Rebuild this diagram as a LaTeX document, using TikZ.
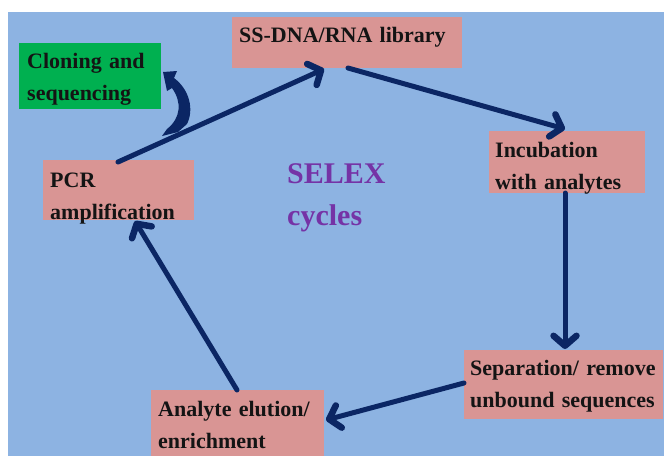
\documentclass[tikz,border=0pt]{standalone}
\usepackage{fontspec}
\setmainfont{Liberation Serif}
\usetikzlibrary{arrows.meta,calc}

\definecolor{bgblue}{HTML}{8DB3E2}
\definecolor{boxpink}{HTML}{D99594}
\definecolor{boxgreen}{HTML}{00B050}
\definecolor{navy}{HTML}{0B2664}
\definecolor{selexpurple}{HTML}{7533A6}
\definecolor{inktext}{HTML}{141414}

\tikzset{
  box/.style={draw=none, inner sep=0pt, outer sep=0pt, anchor=north west},
  lbl/.style={anchor=base west, inner sep=0pt, align=left, text width=210pt,
              font=\bfseries\fontsize{22}{32}\selectfont, text=inktext},
  flow/.style={draw=navy, line width=5pt, line cap=round,
               -{Straight Barb[length=10pt,width=23pt,line width=6.5pt,round]}},
}

\begin{document}
\begin{tikzpicture}[x=1pt, y=-1pt]
  \useasboundingbox (0,0) rectangle (664,456);
  % page and slide background
  \fill[white] (0,0) rectangle (664,456);
  \fill[bgblue] (8,12) rectangle (664,456);

  % process boxes
  \node[box, fill=boxgreen, minimum width=142pt, minimum height=66pt] (clo) at (19,43) {};
  \node[box, fill=boxpink, minimum width=230pt, minimum height=51pt] (lib) at (232,17) {};
  \node[box, fill=boxpink, minimum width=151pt, minimum height=60pt] (pcr) at (43,160) {};
  \node[box, fill=boxpink, minimum width=156pt, minimum height=62pt] (inc) at (489,131) {};
  \node[box, fill=boxpink, minimum width=199pt, minimum height=69pt] (sep) at (464,350) {};
  \node[box, fill=boxpink, minimum width=173pt, minimum height=66pt] (elu) at (151,390) {};

  % box captions
  \node[lbl] (clotxt) at (27,68)  {Cloning and\\sequencing};
  \node[lbl] (libtxt) at (239,42) {SS-DNA/RNA library};
  \node[lbl] (pcrtxt) at (50,187) {PCR\\amplification};
  \node[lbl] (inctxt) at (495,157) {Incubation\\with analytes};
  \node[lbl] (septxt) at (470,375) {Separation/ remove\\unbound sequences};
  \node[lbl] (elutxt) at (158,416) {Analyte elution/\\enrichment};

  % centre title
  \node[anchor=base west, inner sep=0pt, align=left, text=selexpurple,
        font=\bfseries\fontsize{30}{42}\selectfont] (title) at (287,225) {SELEX\\cycles};

  % cycle connectors
  \draw[flow] ($(pcr.north west)+(75,2)$) -- ($(lib.south west)+(92,1)$);
  \draw[flow] ($(lib.south west)+(116,0)$) -- ($(inc.north west)+(76,-2)$);
  \draw[flow] ($(inc.south west)+(76,0)$) -- ($(sep.north west)+(101,-1)$);
  \draw[flow] ($(sep.south west)+(0,-36)$) -- ($(elu.north east)+(2,30)$);
  \draw[flow] ($(elu.north west)+(86,0)$) -- ($(pcr.south west)+(92,1)$);

  % curved branch arrow towards cloning
  \coordinate (fork) at ($(clo.north east)+(2,25)$);
  \fill[navy, shift={(fork)}]
    (0,4) -- (14,3) -- (11,10)
    .. controls (27,22) and (31,42) .. (24,56)
    -- (15,64) -- (-1,68) -- (4,61)
    .. controls (18,50) and (19,34) .. (9,20)
    -- (4,23) -- cycle;
\end{tikzpicture}
\end{document}
